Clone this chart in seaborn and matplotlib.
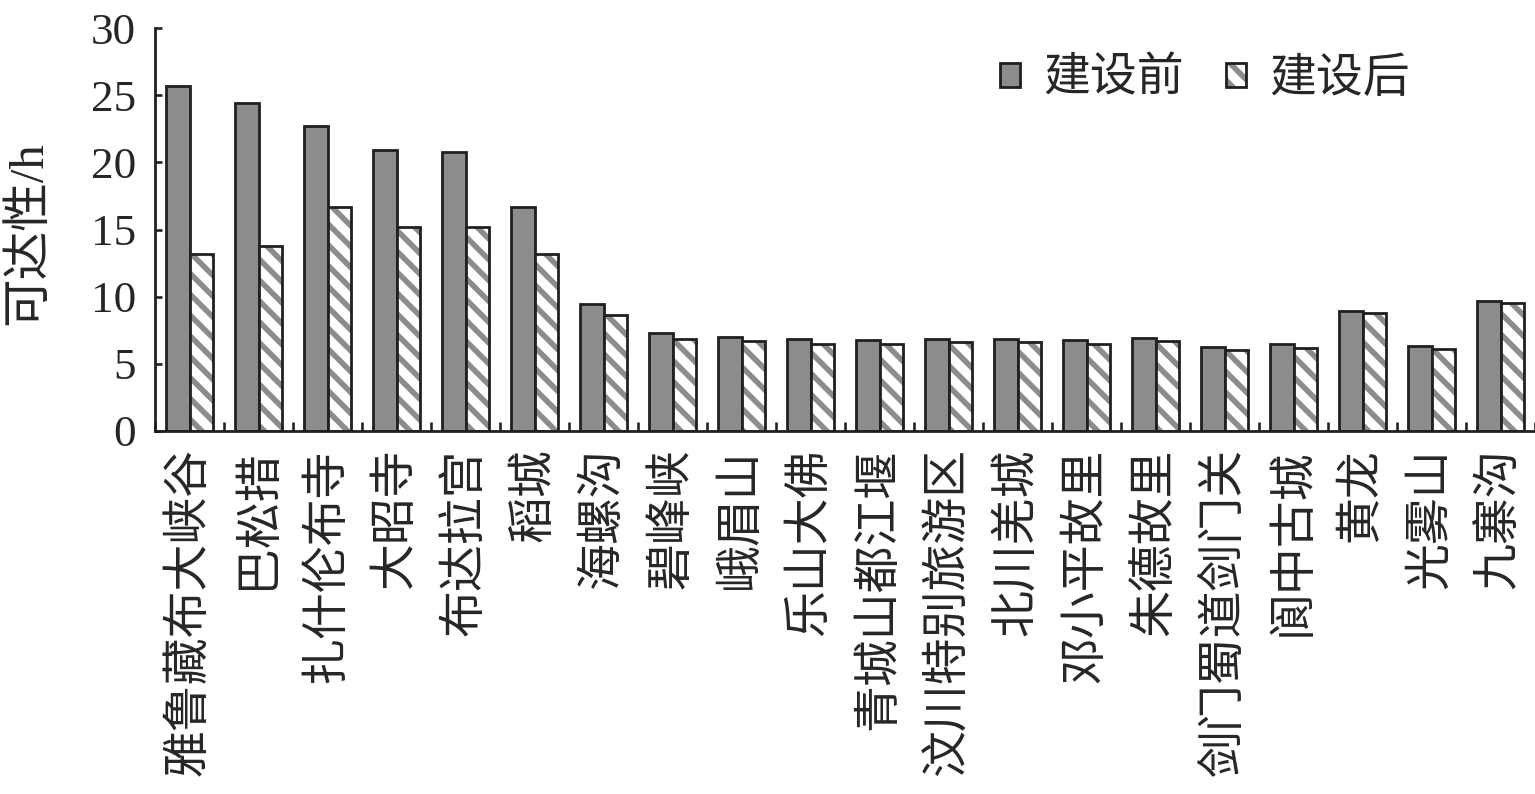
import matplotlib.pyplot as plt
import matplotlib.colors as mcolors
from matplotlib.patches import Patch
import seaborn as sns
import pandas as pd

# accessibility (h) of scenic spots before / after construction
sites = ['雅鲁藏布大峡谷', '巴松措', '扎什伦布寺', '大昭寺', '布达拉宫', '稻城',
         '海螺沟', '碧峰峡', '峨眉山', '乐山大佛', '青城山都江堰', '汶川特别旅游区',
         '北川羌城', '邓小平故里', '朱德故里', '剑门蜀道剑门关', '阆中古城', '黄龙',
         '光雾山', '九寨沟']
before = [25.7, 24.4, 22.7, 20.9, 20.8, 16.65, 9.45, 7.3, 7.0, 6.85,
          6.8, 6.85, 6.85, 6.8, 6.9, 6.25, 6.5, 8.95, 6.3, 9.7]
after = [13.2, 13.8, 16.7, 15.2, 15.2, 13.2, 8.65, 6.85, 6.7, 6.5,
         6.5, 6.6, 6.65, 6.5, 6.7, 6.0, 6.2, 8.75, 6.1, 9.5]
stages = ['建设前', '建设后']
yticks = [0, 5, 10, 15, 20, 25, 30]

gray = '#8c8c8c'
dark = '#231f20'

sns.set_style('ticks')
plt.rcParams['font.family'] = ['Liberation Serif', 'Noto Sans CJK SC']
plt.rcParams['hatch.linewidth'] = 3.2

df = pd.DataFrame({
    'site': sites * 2,
    'value': before + after,
    'stage': [stages[0]] * len(sites) + [stages[1]] * len(sites),
})

fig = plt.figure(figsize=(12.28, 6.352), dpi=125)
ax = fig.add_axes([155 / 1535, 1 - 431 / 794, 1380 / 1535, 403 / 794])

sns.barplot(data=df, x='site', y='value', hue='stage', hue_order=stages,
            palette={stages[0]: gray, stages[1]: 'white'}, width=0.67,
            edgecolor=dark, linewidth=1.6, ax=ax, legend=False)

hatch_gray = mcolors.to_rgba(gray)
for p in ax.containers[1]:
    p.set_hatch('\\\\')
    p._hatch_color = hatch_gray

ax.set_xlim(-0.5, len(sites) - 0.5)
ax.set_ylim(0, 30)
ax.set_yticks(yticks)
ax.set_xticks([i - 0.5 for i in range(len(sites) + 1)], minor=True)

ax.tick_params(axis='y', direction='in', length=4, width=1.5, color=dark,
               labelsize=26, pad=11)
ax.tick_params(axis='x', which='major', length=0, labelsize=27, pad=10,
               labelrotation=90)
ax.tick_params(axis='x', which='minor', direction='in', length=5, width=1.5,
               color=dark)

sns.despine(ax=ax)
for s in ['left', 'bottom']:
    ax.spines[s].set_linewidth(1.6)
    ax.spines[s].set_color(dark)

ax.set_xlabel('')
ax.set_ylabel('可达性/h', fontsize=28)
ax.yaxis.set_label_coords(-0.075, 0.49)

h2 = Patch(facecolor='white', edgecolor=dark, linewidth=1.6, hatch='\\\\', label=stages[1])
h2._hatch_color = hatch_gray
handles = [Patch(facecolor=gray, edgecolor=dark, linewidth=1.6, label=stages[0]), h2]
ax.legend(handles=handles, loc='upper right', bbox_to_anchor=(0.94, 1.03),
          ncol=2, frameon=False, fontsize=27, handlelength=0.42,
          handleheight=0.42, handletextpad=0.5, columnspacing=0.9)

fig.savefig('out.png', dpi=125)
